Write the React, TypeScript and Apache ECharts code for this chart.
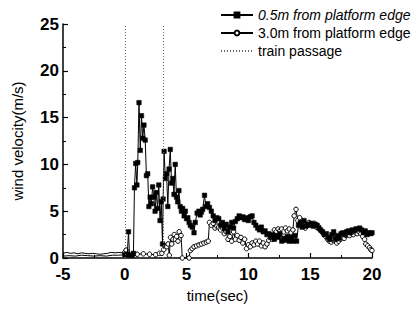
import React, { useEffect, useRef } from "react";
import * as echarts from "echarts";

// Series 1: 0.5 m from platform edge (filled squares)
const s1PreT = [-5, -4.5, -4, -3.5, -3, -2.5, -2, -1.5, -1, -0.5, 0];
const s1PreV = [0.2, 0.25, 0.2, 0.3, 0.25, 0.2, 0.25, 0.2, 0.3, 0.3, 0.35];
const s1T = [0, 0.2, 0.3, 0.38, 0.6, 0.7, 0.78, 0.88, 0.98, 1.05, 1.15, 1.25, 1.35, 1.45, 1.55, 1.65, 1.75, 1.85, 1.95, 2.05, 2.15, 2.25, 2.35, 2.45, 2.55, 2.65, 2.75, 2.85, 2.95, 3.05, 3.1, 3.18, 3.28, 3.38, 3.48, 3.58, 3.68, 3.78, 3.88, 3.98, 4.08, 4.18, 4.28, 4.38, 4.48, 4.58, 4.68, 4.8, 4.9, 5.0, 5.1, 5.2, 5.3, 5.45, 5.6, 5.7, 5.85, 6.0, 6.1, 6.2, 6.3, 6.45, 6.55, 6.7, 6.85, 7.0, 7.15, 7.3, 7.45, 7.6, 7.75, 7.9, 8.05, 8.2, 8.35, 8.5, 8.65, 8.8, 8.95, 9.1, 9.25, 9.4, 9.55, 9.7, 9.85, 10.0, 10.15, 10.3, 10.45, 10.6, 10.75, 10.9, 11.05, 11.2, 11.35, 11.5, 11.65, 11.8, 11.95, 12.1, 12.25, 12.4, 12.55, 12.7, 12.85, 13.0, 13.15, 13.3, 13.45, 13.6, 13.75, 13.9, 14.05, 14.2, 14.35, 14.5, 14.65, 14.8, 14.95, 15.1, 15.25, 15.4, 15.55, 15.7, 15.85, 16.0, 16.15, 16.3, 16.45, 16.6, 16.75, 16.9, 17.05, 17.2, 17.35, 17.5, 17.65, 17.8, 17.95, 18.1, 18.25, 18.4, 18.55, 18.7, 18.85, 19.0, 19.15, 19.3, 19.45, 19.6, 19.75, 19.9, 20.0];
const s1V = [0.35, 0.4, 2.8, 0.3, 0.3, 0.5, 7.5, 10.1, 7.8, 10.2, 16.6, 11.5, 15.2, 12.8, 14.2, 12.6, 8.8, 9.0, 5.5, 6.5, 5.8, 7.6, 6.5, 5.0, 7.0, 5.3, 7.8, 4.0, 6.0, 1.5, 6.3, 11.4, 8.5, 9.0, 5.5, 9.5, 11.6, 8.0, 8.5, 6.8, 10.0, 6.5, 6.0, 7.2, 5.5, 5.0, 5.3, 4.5, 5.0, 4.2, 4.3, 3.8, 3.5, 3.3, 2.7, 3.8, 4.8, 5.0, 4.6, 4.9, 5.2, 6.7, 5.5, 5.8, 5.4, 5.0, 4.5, 4.0, 4.3, 4.2, 3.5, 3.8, 3.2, 3.6, 2.8, 3.3, 3.8, 3.2, 3.9, 4.2, 4.5, 4.3, 4.4, 4.1, 4.3, 4.0, 4.4, 4.5, 3.8, 3.5, 3.2, 3.0, 3.3, 2.8, 2.9, 2.5, 2.6, 2.2, 2.5, 2.0, 2.4, 2.2, 2.6, 1.8, 2.1, 1.9, 2.3, 1.8, 2.2, 1.8, 2.4, 1.8, 3.5, 3.8, 3.3, 4.0, 3.4, 3.6, 3.5, 3.7, 3.4, 3.6, 3.5, 3.2, 3.0, 2.8, 2.5, 2.6, 2.2, 2.0, 2.5, 2.8, 2.0, 2.4, 2.1, 2.6, 2.7, 2.5, 2.8, 2.9, 2.7, 3.0, 2.9, 3.1, 3.1, 3.2, 3.0, 2.7, 2.9, 2.5, 2.7, 2.6, 2.7];

// Series 2: 3.0 m from platform edge (open circles)
const s2PreT = [-5, -4.7, -4.4, -4.1, -3.8, -3.5, -3.2, -2.9, -2.6, -2.3, -2.0, -1.7, -1.4, -1.1, -0.8, -0.5, -0.2, 0];
const s2PreV = [0.5, 0.6, 0.5, 0.55, 0.45, 0.55, 0.5, 0.45, 0.5, 0.45, 0.4, 0.45, 0.5, 0.6, 0.55, 0.6, 0.55, 0.6];
const s2T = [0, 0.1, 0.3, 0.6, 1.0, 1.5, 2.0, 2.5, 2.8, 3.0, 3.15, 3.25, 3.4, 3.5, 3.6, 3.7, 3.8, 3.9, 4.0, 4.1, 4.2, 4.3, 4.4, 4.55, 4.65, 5.2, 5.3, 5.45, 5.6, 5.8, 6.0, 6.2, 6.4, 6.6, 6.75, 6.85, 7.0, 7.15, 7.3, 7.45, 7.6, 7.75, 7.9, 8.05, 8.2, 8.35, 8.5, 8.65, 8.8, 8.95, 9.1, 9.25, 9.4, 9.55, 9.7, 9.85, 10.0, 10.15, 10.3, 10.45, 10.6, 10.75, 10.9, 11.05, 11.2, 11.35, 11.5, 11.65, 11.8, 11.95, 12.1, 12.25, 12.4, 12.55, 12.7, 12.85, 13.0, 13.15, 13.3, 13.45, 13.6, 13.7, 13.85, 14.0, 14.15, 14.3, 14.45, 14.6, 14.75, 14.9, 15.05, 15.2, 15.35, 15.5, 15.65, 15.8, 15.95, 16.1, 16.25, 16.4, 16.55, 16.7, 16.85, 17.0, 17.15, 17.3, 17.45, 17.6, 17.75, 17.9, 18.05, 18.2, 18.35, 18.5, 18.65, 18.8, 18.95, 19.1, 19.25, 19.4, 19.5, 19.65, 19.8, 19.9, 20.0];
const s2V = [0.6, 0.85, 0.4, 0.35, 0.4, 0.45, 0.4, 0.35, 0.5, 0.5, 0.9, 1.3, 1.2, 1.5, 0.3, 2.2, 1.5, 2.0, 2.5, 2.0, 2.3, 1.8, 2.8, 2.4, 0.0, 0.0, 0.8, 1.0, 1.2, 1.3, 1.4, 1.5, 1.6, 1.7, 1.8, 3.8, 3.5, 3.7, 3.2, 3.4, 3.3, 3.0, 3.2, 2.6, 2.8, 2.0, 2.3, 1.8, 2.8, 2.0, 2.4, 1.9, 2.2, 1.6, 2.0, 1.0, 1.4, 1.2, 1.6, 1.4, 1.8, 1.5, 1.8, 1.3, 1.6, 1.2, 1.5, 1.9, 2.2, 2.0, 3.0, 2.8, 3.1, 2.9, 3.1, 2.8, 3.2, 2.9, 3.1, 2.7, 3.0, 4.5, 5.2, 4.0, 4.3, 3.6, 3.4, 3.2, 3.5, 3.8, 3.6, 3.5, 3.7, 3.3, 3.4, 3.0, 2.8, 2.5, 2.3, 2.0, 1.8, 1.7, 1.9, 1.8, 1.6, 1.8, 2.0, 2.2, 2.1, 2.4, 2.5, 2.4, 2.6, 2.5, 2.7, 2.6, 2.8, 2.6, 2.3, 2.0, 1.5, 1.3, 1.1, 0.9, 0.8];

// Train passage times
const trainTimes = [0, 3.1];

const seriesNames = ["0.5m from platform edge", "3.0m from platform edge", "train passage"];

const zip = (t: number[], v: number[]) => t.map((x, i) => [x, v[i]]);

const FONT = "Arial, 'Liberation Sans', Helvetica, sans-serif";

export default function App() {
  const ref = useRef<HTMLDivElement>(null);
  useEffect(() => {
    if (!ref.current) return;
    const chart = echarts.init(ref.current, null, { renderer: "svg" });
    chart.setOption({
      animation: false,
      backgroundColor: "#ffffff",
      textStyle: { fontFamily: FONT },
      grid: { left: 63, right: 40, top: 24, bottom: 51 },
      legend: {
        orient: "vertical",
        left: 215,
        top: 3,
        itemWidth: 32,
        itemHeight: 6,
        itemGap: 4,
        textStyle: { fontSize: 14, color: "#000", fontFamily: FONT },
        data: [
          { name: seriesNames[0], textStyle: { fontStyle: "italic" } },
          { name: seriesNames[1] },
          { name: seriesNames[2], itemStyle: { color: "rgba(0,0,0,0)", borderColor: "rgba(0,0,0,0)" } },
        ],
      },
      xAxis: {
        type: "value",
        min: -5,
        max: 20,
        interval: 5,
        name: "time(sec)",
        nameLocation: "middle",
        nameGap: 30,
        nameTextStyle: { fontSize: 15, color: "#000", fontFamily: FONT },
        axisLine: { onZero: false, lineStyle: { color: "#000", width: 1.5 } },
        axisTick: { inside: true, length: 5, lineStyle: { color: "#000", width: 1.2 } },
        minorTick: { show: true, splitNumber: 2, length: 3, lineStyle: { color: "#000", width: 1 } },
        axisLabel: { fontSize: 17, fontWeight: "bold", color: "#000", margin: 8, fontFamily: FONT },
        splitLine: { show: false },
      },
      yAxis: {
        type: "value",
        min: 0,
        max: 25,
        interval: 5,
        name: "wind velocity(m/s)",
        nameLocation: "middle",
        nameGap: 38,
        nameTextStyle: { fontSize: 15, color: "#000", fontFamily: FONT },
        axisLine: { show: true, onZero: false, lineStyle: { color: "#000", width: 1.5 } },
        axisTick: { show: true, inside: true, length: 5, lineStyle: { color: "#000", width: 1.2 } },
        minorTick: { show: true, splitNumber: 2, length: 3, lineStyle: { color: "#000", width: 1 } },
        axisLabel: { fontSize: 17, fontWeight: "bold", color: "#000", margin: 4, fontFamily: FONT },
        splitLine: { show: false },
      },
      series: [
        {
          name: "pre1",
          type: "line",
          data: zip(s1PreT, s1PreV),
          showSymbol: false,
          lineStyle: { color: "#000", width: 1 },
          itemStyle: { color: "#000" },
          z: 3,
        },
        {
          name: "pre2",
          type: "line",
          data: zip(s2PreT, s2PreV),
          showSymbol: false,
          lineStyle: { color: "#000", width: 1 },
          itemStyle: { color: "#000" },
          z: 2,
        },
        {
          name: seriesNames[0],
          type: "line",
          data: zip(s1T, s1V),
          symbol: "rect",
          symbolSize: 4.5,
          showAllSymbol: true,
          lineStyle: { color: "#000", width: 1 },
          itemStyle: { color: "#000", borderColor: "#000", borderWidth: 0.5 },
          z: 3,
        },
        {
          name: seriesNames[1],
          type: "line",
          data: zip(s2T, s2V),
          symbol: "circle",
          symbolSize: 4.5,
          showAllSymbol: true,
          lineStyle: { color: "#000", width: 1 },
          itemStyle: { color: "#fff", borderColor: "#000", borderWidth: 1 },
          z: 2,
        },
        {
          name: seriesNames[2],
          type: "line",
          data: [],
          symbol: "none",
          lineStyle: { color: "#666", width: 1, type: [1, 2] },
          itemStyle: { color: "rgba(0,0,0,0)" },
          markLine: {
            silent: true,
            symbol: "none",
            label: { show: false },
            lineStyle: { color: "#666", width: 1, type: [1, 2] },
            data: trainTimes.map((t) => ({ xAxis: t })),
          },
          z: 1,
        },
      ],
    });
    return () => chart.dispose();
  }, []);
  return (
    <div
      ref={ref}
      style={{ position: "absolute", left: 0, top: 0, width: 412, height: 309 }}
    />
  );
}
